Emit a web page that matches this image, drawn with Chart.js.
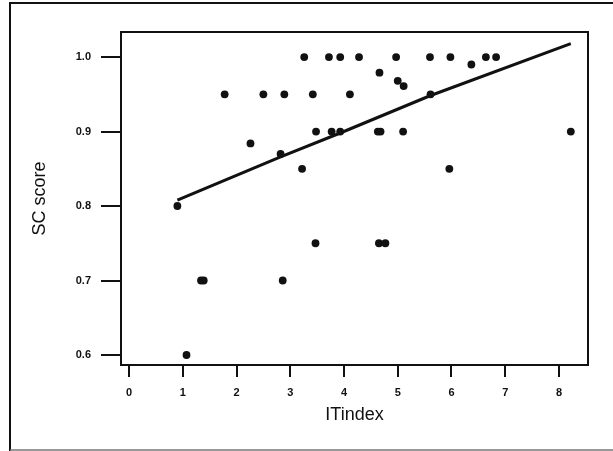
<!DOCTYPE html>
<html>
<head>
<meta charset="utf-8">
<script src="https://cdn.jsdelivr.net/npm/chart.js@4/dist/chart.umd.min.js"></script>
<style>
  html, body { margin: 0; padding: 0; background: #fff; }
  #wrap { width: 613px; height: 451px; position: relative; }
</style>
</head>
<body>
<div id="wrap"><canvas id="chart"></canvas></div>
<script>
// scatter points
const itIndex = [0.90, 1.07, 1.34, 1.39, 1.78, 2.26, 2.50, 2.82, 2.86, 2.89, 3.22, 3.26, 3.42, 3.47, 3.48,
                 3.72, 3.77, 3.93, 3.93, 4.11, 4.28, 4.63, 4.68, 4.65, 4.77, 4.66, 4.97, 5.00, 5.11, 5.10,
                 5.60, 5.61, 5.96, 5.98, 6.37, 6.64, 6.83, 8.22];
const scScore = [0.80, 0.60, 0.70, 0.70, 0.95, 0.884, 0.95, 0.87, 0.70, 0.95, 0.85, 1.0, 0.95, 0.75, 0.90,
                 1.0, 0.90, 1.0, 0.90, 0.95, 1.0, 0.90, 0.90, 0.75, 0.75, 0.979, 1.0, 0.968, 0.961, 0.90,
                 1.0, 0.95, 0.85, 1.0, 0.99, 1.0, 1.0, 0.90];

// fitted line
const fitX = [0.90, 2.82, 3.93, 5.60, 8.22];
const fitY = [0.808, 0.866, 0.898, 0.948, 1.018];

const xTicks = [0, 1, 2, 3, 4, 5, 6, 7, 8];
const yTicks = [0.6, 0.7, 0.8, 0.9, 1.0];

const frameBox = {
    id: 'frameBox',
    beforeDraw(chart) {
        const c = chart.ctx;
        c.save();
        c.strokeStyle = '#111';
        c.lineWidth = 2;
        c.beginPath();
        c.moveTo(10, 451); c.lineTo(10, 3); c.lineTo(613, 3);
        c.stroke();
        c.strokeStyle = '#777';
        c.lineWidth = 1.5;
        c.beginPath();
        c.moveTo(10, 450); c.lineTo(613, 450);
        c.stroke();
        c.restore();
    },
    afterDatasetsDraw(chart) {
        const a = chart.chartArea;
        const c = chart.ctx;
        c.save();
        c.strokeStyle = '#111';
        c.lineWidth = 2;
        c.strokeRect(a.left, a.top, a.right - a.left, a.bottom - a.top);
        c.restore();
    }
};

const tickFont = { family: 'Liberation Sans, Arial', size: 11, weight: 'bold' };
const titleFont = { family: 'Liberation Sans, Arial', size: 18 };

new Chart(document.getElementById('chart'), {
    type: 'scatter',
    data: {
        datasets: [
            {
                type: 'line',
                data: fitX.map((x, i) => ({ x, y: fitY[i] })),
                borderColor: '#111',
                borderWidth: 3,
                pointRadius: 0,
                fill: false,
                tension: 0,
            },
            {
                data: itIndex.map((x, i) => ({ x, y: scScore[i] })),
                backgroundColor: '#111',
                borderColor: '#111',
                borderWidth: 0,
                pointRadius: 3.9,
            },
        ],
    },
    options: {
        responsive: true, maintainAspectRatio: false, animation: false,
        layout: { padding: { left: 0, top: 32, right: 25, bottom: 0 } },
        plugins: { legend: { display: false }, tooltip: { enabled: false } },
        scales: {
            x: {
                type: 'linear', min: -0.149, max: 8.54,
                afterBuildTicks: s => { s.ticks = xTicks.map(v => ({ value: v })); },
                afterFit: s => { s.height = 86; },
                grid: { drawOnChartArea: false, drawTicks: true, tickLength: 12, color: '#111', lineWidth: 2 },
                border: { display: true, color: '#111', width: 2 },
                ticks: { color: '#111', font: tickFont, padding: 9, maxRotation: 0, callback: v => String(v) },
                title: { display: true, text: 'ITindex', color: '#111', font: titleFont, padding: { top: 0, bottom: 25 } },
            },
            y: {
                type: 'linear', min: 0.5866, max: 1.0336,
                afterBuildTicks: s => { s.ticks = yTicks.map(v => ({ value: v })); },
                afterFit: s => { s.width = 121; },
                grid: { drawOnChartArea: false, drawTicks: true, tickLength: 20, color: '#111', lineWidth: 2 },
                border: { display: true, color: '#111', width: 2 },
                ticks: { color: '#111', font: tickFont, padding: 10, callback: v => v.toFixed(1) },
                title: { display: true, text: 'SC score', color: '#111', font: titleFont, padding: { top: 29, bottom: 0 } },
            },
        },
    },
    plugins: [frameBox],
});
</script>
</body>
</html>
